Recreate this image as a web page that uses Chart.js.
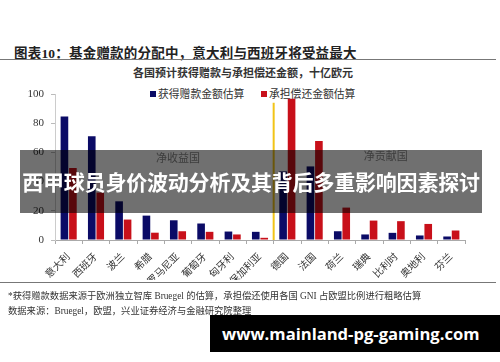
<!DOCTYPE html>
<html lang="zh">
<head>
<meta charset="UTF-8">
<title>基金赠款的分配</title>
<script src="https://cdn.jsdelivr.net/npm/chart.js@4"></script>
<style>
  body { margin: 0; background: #fff; }
  .page { position: relative; width: 500px; height: 362px; overflow: hidden; background: #fff;
          font-family: "Liberation Serif", "Noto Sans CJK SC", serif; color: #222; }
  .title { position: absolute; left: 14px; top: 42px; font-size: 13.5px; font-weight: bold; letter-spacing: 0.2px; }
  .rule { position: absolute; left: 0; width: 496px; height: 1px; background: #777; }
  .subtitle { position: absolute; left: 0; width: 486px; top: 64px; text-align: center; font-size: 11px; font-weight: bold; color: #333; }
  .legend { position: absolute; top: 85px; font-size: 10.8px; color: #333; }
  .legend span { display: inline-block; width: 6px; height: 6px; margin-right: 2px; vertical-align: 1px; }
  .chartBox { position: absolute; left: 0; top: 80px; width: 500px; height: 205px; }
  .note { position: absolute; left: 8px; font-size: 9.3px; color: #333; white-space: nowrap; }
  .banner { position: absolute; left: 20px; top: 150px; width: 462px; height: 63px; background: rgba(0,0,0,0.56);
            color: #fff; font-family: "Noto Sans CJK SC", sans-serif; font-weight: bold; font-size: 21px;
            line-height: 63px; text-align: center; letter-spacing: -0.2px; white-space: nowrap; }
  .mark { position: absolute; left: 210px; top: 315px; width: 290px; height: 37px; background: #000; color: #fff;
          font-family: "Open Sans", "DejaVu Sans", sans-serif; font-weight: bold; font-size: 16.6px; line-height: 37px;
          padding-left: 12px; box-sizing: border-box; white-space: nowrap; }
</style>
</head>
<body>
<div class="page">
  <div class="title">图表10：基金赠款的分配中，意大利与西班牙将受益最大</div>
  <div class="rule" style="top:59px"></div>
  <div class="subtitle">各国预计获得赠款与承担偿还金额，十亿欧元</div>
  <div class="legend" style="left:150px"><span style="background:#0b0b66"></span>获得赠款金额估算</div>
  <div class="legend" style="left:261px"><span style="background:#c8101a"></span>承担偿还金额估算</div>
  <div class="chartBox"><canvas id="Chart"></canvas></div>
  <div class="rule" style="top:282px"></div>
  <div class="note" style="top:288px">*获得赠款数据来源于欧洲独立智库 Bruegel 的估算，承担偿还使用各国 GNI 占欧盟比例进行粗略估算</div>
  <div class="note" style="top:303px">数据来源：Bruegel，欧盟，兴业证券经济与金融研究院整理</div>
  <div class="banner">西甲球员身价波动分析及其背后多重影响因素探讨</div>
  <div class="mark">www.mainland-pg-gaming.com</div>
</div>
<script>
  // countries, billions of euro
  const countries = ["意大利", "西班牙", "波兰", "希腊", "罗马尼亚", "葡萄牙", "匈牙利", "保加利亚",
                     "德国", "法国", "荷兰", "瑞典", "比利时", "奥地利", "芬兰"];
  const grants = [84.6, 71, 26.5, 16.7, 13.5, 11.3, 5.8, 5.6, 47, 50.4, 6, 3.8, 4.9, 3.1, 2.4];
  const repayments = [49.3, 32.5, 14, 5, 6, 5.6, 3.8, 1.5, 96.7, 67.8, 22.2, 13.3, 12.9, 11, 6.5];
  const yTicks = [0, 20, 40, 60, 80, 100];

  // group labels: [text, category position, value]
  const groupLabels = [["净收益国", 4, 55.5], ["净贡献国", 11.6, 57]];
  const splitAt = 7.5; // between 保加利亚 and 德国
  const splitTop = 94;

  const overlay = {
    id: "overlay",
    afterDatasetsDraw(chart) {
      const { ctx, scales: { x, y } } = chart;
      ctx.save();
      ctx.fillStyle = "#8a8a8a";
      ctx.font = "11px 'Liberation Serif', 'Noto Sans CJK SC'";
      ctx.textAlign = "center";
      ctx.textBaseline = "middle";
      groupLabels.forEach(([t, c, v]) => ctx.fillText(t, x.getPixelForValue(c), y.getPixelForValue(v)));
      const sx = x.getPixelForValue(splitAt);
      ctx.strokeStyle = "#f2c417";
      ctx.lineWidth = 2;
      ctx.beginPath();
      ctx.moveTo(sx, y.getPixelForValue(splitTop));
      ctx.lineTo(sx, y.getPixelForValue(0));
      ctx.stroke();
      ctx.restore();
    }
  };

  new Chart(document.getElementById("Chart"), {
    type: "bar",
    data: {
      labels: countries,
      datasets: [
        { label: "获得赠款金额估算", data: grants, backgroundColor: "#0b0b66",
          categoryPercentage: 0.62, barPercentage: 0.9 },
        { label: "承担偿还金额估算", data: repayments, backgroundColor: "#c8101a",
          categoryPercentage: 0.62, barPercentage: 0.9 }
      ]
    },
    options: {
      responsive: true,
      maintainAspectRatio: false,
      animation: false,
      layout: { padding: { top: 14, right: 35, left: 0, bottom: 5 } },
      plugins: { legend: { display: false }, tooltip: { enabled: false } },
      scales: {
        x: {
          grid: { drawOnChartArea: false, offset: true, tickLength: 4, color: "#aaa" },
          border: { color: "#aaa" },
          ticks: { minRotation: 45, maxRotation: 45, color: "#333", padding: 7,
                   font: { family: "'Liberation Serif', 'Noto Sans CJK SC'", size: 10 } },
          afterFit(s) { s.height = 40; }
        },
        y: {
          min: 0, max: 100,
          afterBuildTicks(s) { s.ticks = yTicks.map(v => ({ value: v })); },
          grid: { drawOnChartArea: false, tickLength: 4, color: "#bbb" },
          border: { color: "#ccc" },
          ticks: { color: "#333", padding: 7, font: { family: "'Liberation Serif'", size: 11 } },
          afterFit(s) { s.width = 55; }
        }
      }
    },
    plugins: [overlay]
  });
</script>
</body>
</html>
